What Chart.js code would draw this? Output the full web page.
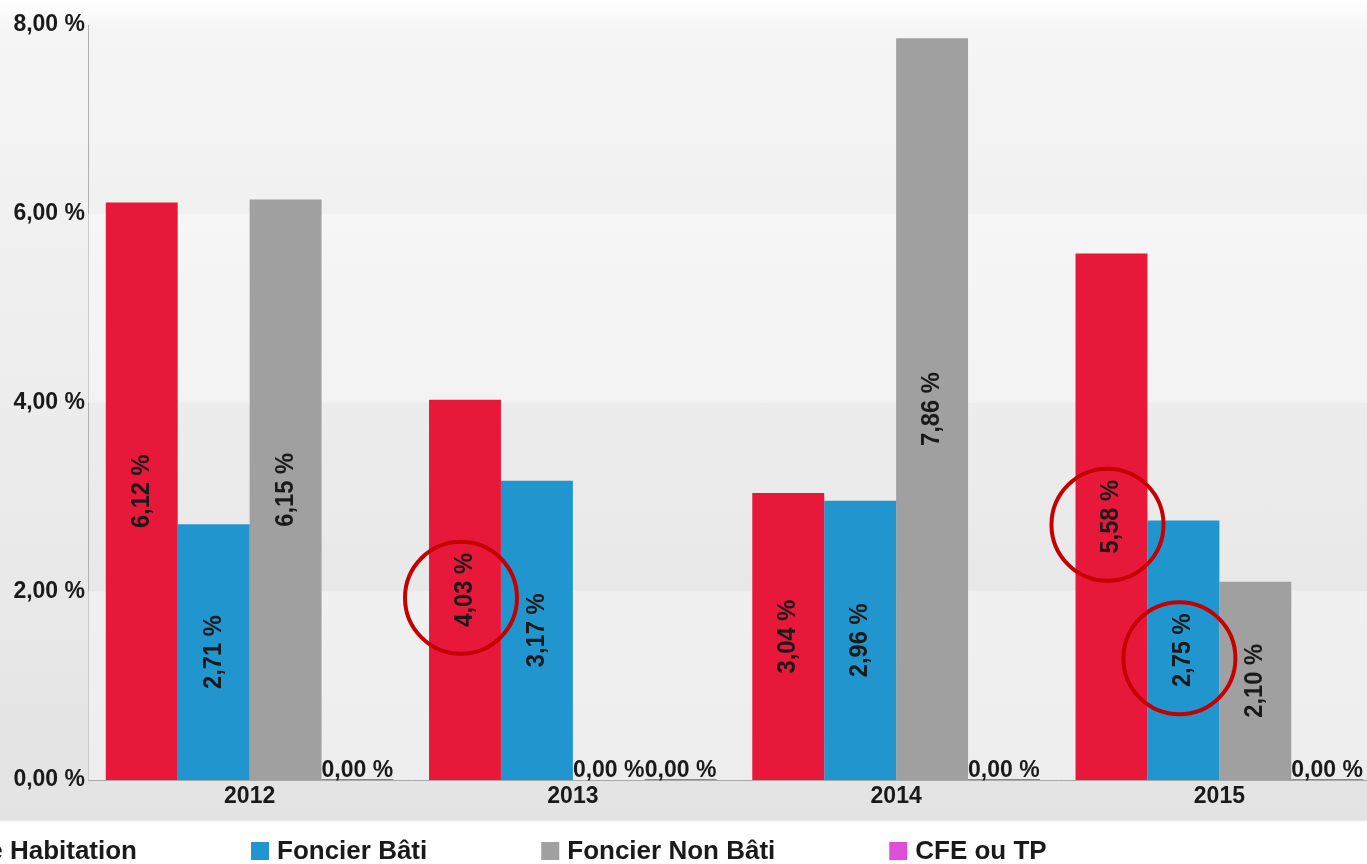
<!DOCTYPE html>
<html>
<head>
<meta charset="utf-8">
<script src="https://cdn.jsdelivr.net/npm/chart.js@4.4.0/dist/chart.umd.min.js"></script>
<style>
  html, body { margin: 0; padding: 0; overflow: hidden; background: #fff; }
  #wrap {
    position: absolute; left: 0; top: 0; width: 1400px; height: 864px;
    background: linear-gradient(to bottom, #ffffff 0px, #f5f5f5 28px, #e3e3e3 820px, #ffffff 822px, #ffffff 864px);
  }
</style>
</head>
<body>
<div id="wrap"><canvas id="chart" width="1400" height="864"></canvas></div>
<script>
const years = ["2012", "2013", "2014", "2015"];
const taxeHabitation = [6.12, 4.03, 3.04, 5.58];
const foncierBati = [2.71, 3.17, 2.96, 2.75];
const foncierNonBati = [6.15, 0, 7.86, 2.10];
const cfeOuTp = [0, 0, 0, 0];
const yTicks = [0, 2, 4, 6, 8];
// labels circled in red on the picture: [dataset, year index]
const circled = [[0, 1], [0, 3], [1, 3]];

const FONT = "'Liberation Sans', Arial, sans-serif";
const fmt = (v) => v.toFixed(2).replace(".", ",") + " %";

// alternate light bands behind the bars
const bandsPlugin = {
  id: "bands",
  beforeDatasetsDraw(chart) {
    const { ctx, chartArea, scales } = chart;
    const y = scales.y;
    ctx.save();
    for (let i = 0; i < yTicks.length - 1; i++) {
      if (i % 2 === 0) {
        const top = y.getPixelForValue(yTicks[i + 1]);
        const bottom = y.getPixelForValue(yTicks[i]);
        ctx.fillStyle = "rgba(255,255,255,0.35)";
        ctx.fillRect(chartArea.left, top, chartArea.right - chartArea.left, bottom - top);
      }
    }
    ctx.restore();
  },
};

// value labels: rotated inside bars, flat on the base line when zero
const labelsPlugin = {
  id: "barLabels",
  afterDatasetsDraw(chart) {
    const { ctx } = chart;
    ctx.save();
    ctx.fillStyle = "#1a1a1a";
    ctx.font = "bold 23px " + FONT;
    chart.data.datasets.forEach((ds, di) => {
      const meta = chart.getDatasetMeta(di);
      meta.data.forEach((bar, i) => {
        const v = ds.data[i];
        const p = bar.getProps(["x", "y", "base", "width"], true);
        if (v > 0) {
          ctx.save();
          ctx.translate(p.x, (p.y + p.base) / 2);
          ctx.rotate(-Math.PI / 2);
          ctx.scale(1.03, 1.1);
          ctx.textAlign = "center";
          ctx.textBaseline = "middle";
          ctx.fillText(fmt(v), 0, 0);
          ctx.restore();
        } else {
          ctx.textAlign = "left";
          ctx.textBaseline = "alphabetic";
          ctx.fillText(fmt(v), p.x - p.width / 2, p.base - 3);
        }
      });
    });
    // red circles drawn around some labels
    ctx.strokeStyle = "#c40000";
    ctx.lineWidth = 4;
    circled.forEach(([di, i]) => {
      const bar = chart.getDatasetMeta(di).data[i];
      const p = bar.getProps(["x", "y", "base"], true);
      ctx.beginPath();
      ctx.arc(p.x - 4, (p.y + p.base) / 2 + 8, 56, 0, Math.PI * 2);
      ctx.stroke();
    });
    ctx.restore();
  },
};

// legend laid out in one row, first item partly off the left edge
const legendPlugin = {
  id: "rowLegend",
  afterDraw(chart) {
    const { ctx } = chart;
    ctx.save();
    ctx.font = "bold 26px " + FONT;
    ctx.textBaseline = "middle";
    ctx.textAlign = "left";
    const items = chart.data.datasets;
    const y = 851;
    let x = 137 - ctx.measureText(items[0].label).width - 26;
    items.forEach((ds) => {
      ctx.fillStyle = ds.backgroundColor;
      ctx.fillRect(x, y - 9, 18, 18);
      ctx.fillStyle = "#1a1a1a";
      ctx.fillText(ds.label, x + 26, y + 1);
      x += 26 + ctx.measureText(ds.label).width + 114;
    });
    ctx.restore();
  },
};

const ctx = document.getElementById("chart").getContext("2d");
new Chart(ctx, {
  type: "bar",
  data: {
    labels: years,
    datasets: [
      { label: "Taxe Habitation", data: taxeHabitation, backgroundColor: "#e8183a" },
      { label: "Foncier Bâti", data: foncierBati, backgroundColor: "#2195cd" },
      { label: "Foncier Non Bâti", data: foncierNonBati, backgroundColor: "#a0a0a0" },
      { label: "CFE ou TP", data: cfeOuTp, backgroundColor: "#dd4fd6", minBarLength: 1 },
    ],
  },
  options: {
    responsive: false,
    animation: false,
    layout: { padding: { top: 25, right: 19, left: 0, bottom: 0 } },
    datasets: { bar: { categoryPercentage: 0.89, barPercentage: 1.0 } },
    plugins: { legend: { display: false }, tooltip: { enabled: false } },
    scales: {
      x: {
        grid: { display: false, drawTicks: false },
        border: { display: true, color: "#a8a8a8", width: 1 },
        ticks: { color: "#1a1a1a", font: { family: FONT, size: 23, weight: "bold" }, padding: 3 },
        afterFit(scale) { scale.height = 84; },
      },
      y: {
        min: 0,
        max: 8,
        afterBuildTicks(scale) { scale.ticks = yTicks.map((v) => ({ value: v })); },
        grid: { display: false, drawTicks: false },
        border: { display: true, color: "#b0b0b0", width: 1 },
        ticks: {
          color: "#1a1a1a",
          font: { family: FONT, size: 23, weight: "bold" },
          padding: 3,
          callback: (v) => fmt(v),
        },
        afterFit(scale) { scale.width = 88; },
      },
    },
  },
  plugins: [bandsPlugin, labelsPlugin, legendPlugin],
});
</script>
</body>
</html>
